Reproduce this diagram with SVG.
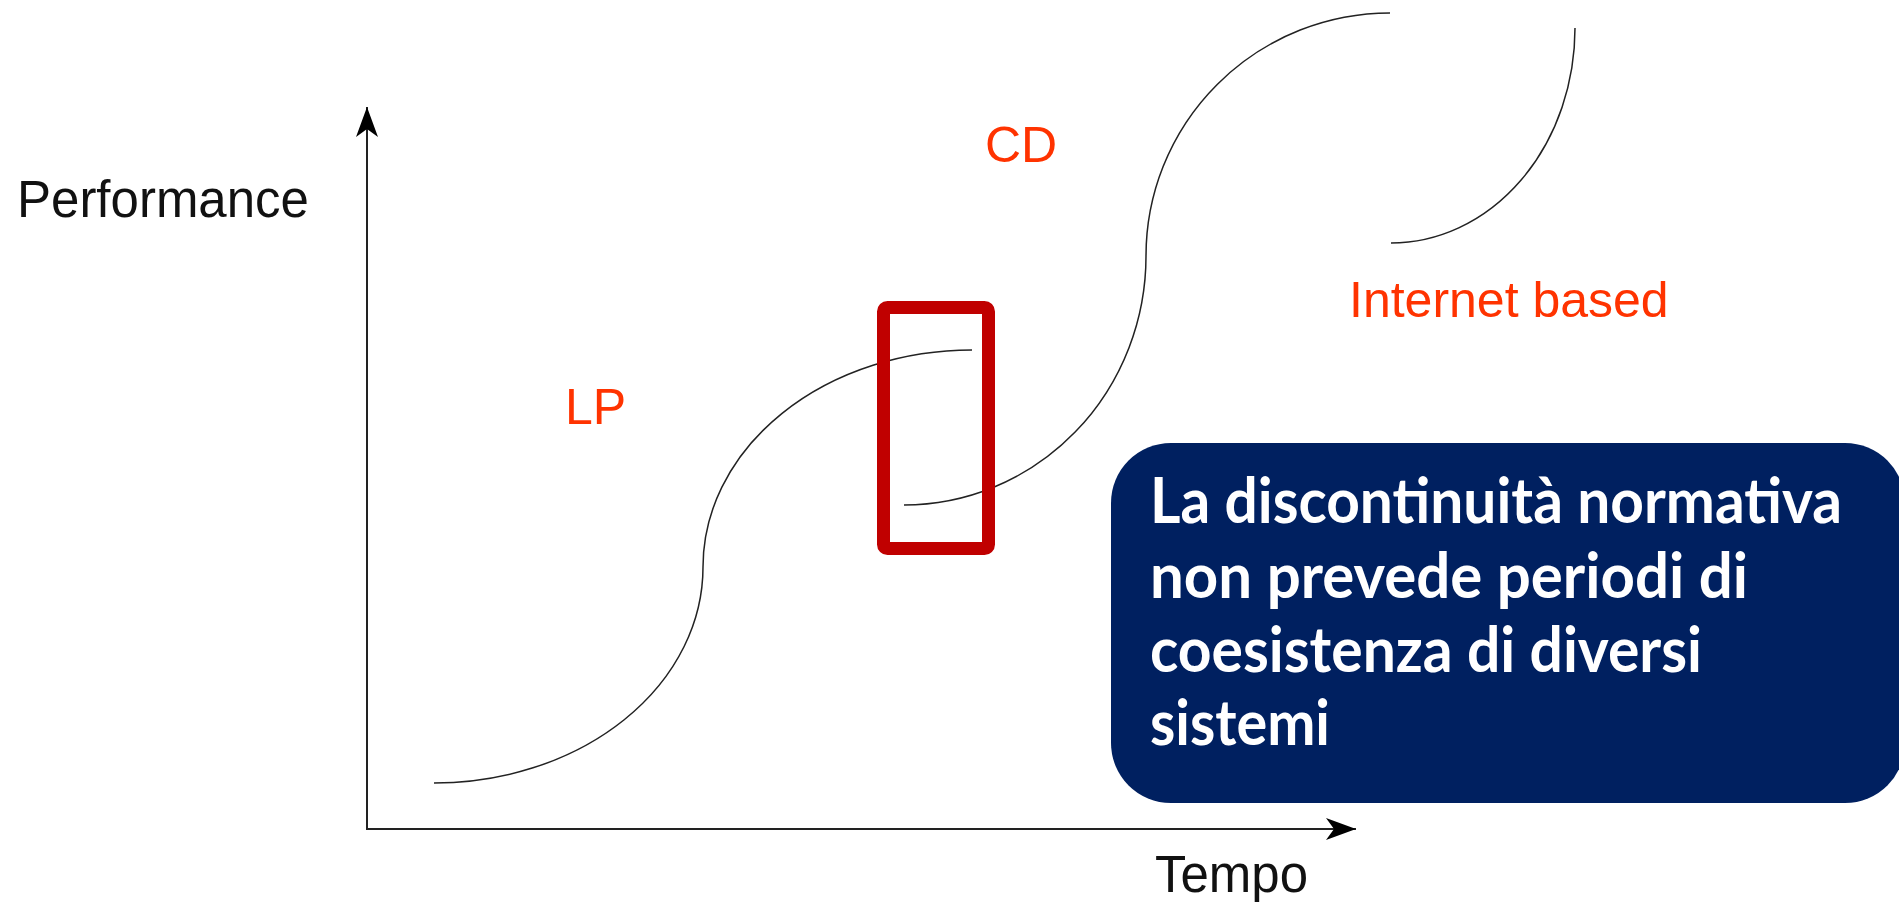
<svg xmlns="http://www.w3.org/2000/svg" width="1899" height="902" viewBox="0 0 1899 902">
  <style>
    .axis { stroke: #222; stroke-width: 2; fill: none; }
    .curve { stroke: #222; stroke-width: 1.5; fill: none; }
    .lbl { font-family: "Liberation Sans", Arial, sans-serif; font-size: 51px; fill: #111; }
    .red { font-family: "Liberation Sans", Arial, sans-serif; font-size: 50px; fill: #FF3300; }
    .note { font-family: Lato, "Open Sans", sans-serif; font-weight: bold; font-size: 63px; fill: #FFFFFF; }
  </style>
  <defs>
    <marker id="arr" viewBox="0 0 30 22" refX="30" refY="11" markerWidth="30" markerHeight="22" markerUnits="userSpaceOnUse" orient="auto">
      <path d="M0,0 L30,11 L0,22 L8,11 Z" fill="#000"/>
    </marker>
  </defs>
  <rect width="1899" height="902" fill="#FFFFFF"/>

  <g id="connectors">
    <line class="axis" x1="367" y1="829" x2="367" y2="107" marker-end="url(#arr)"/>
    <line class="axis" x1="366" y1="829" x2="1356" y2="829" marker-end="url(#arr)"/>
  </g>

  <g id="curve-lp">
    <path class="curve" d="M434,783 A269,216 0 0 0 703,567 A269,217 0 0 1 972,350"/>
  </g>
  <g id="curve-cd">
    <path class="curve" d="M904,505 A242,249 0 0 0 1146,256 A244,243 0 0 1 1390,13"/>
  </g>
  <g id="curve-internet">
    <path class="curve" d="M1391,243 A184,215 0 0 0 1575,28"/>
  </g>

  <g id="label-performance">
    <text class="lbl" x="17" y="217">Performance</text>
  </g>
  <g id="label-tempo">
    <text class="lbl" x="1155" y="892">Tempo</text>
  </g>
  <g id="label-lp">
    <text class="red" x="565" y="424">LP</text>
  </g>
  <g id="label-cd">
    <text class="red" x="985" y="162" font-size="48">CD</text>
  </g>
  <g id="label-internet">
    <text class="red" x="1349" y="317" font-size="51">Internet based</text>
  </g>

  <g id="highlight">
    <rect x="883.5" y="307.5" width="105" height="241" rx="4" fill="none" stroke="#C00000" stroke-width="13"/>
  </g>

  <g id="note">
    <rect x="1111" y="443" width="794" height="360" rx="60" fill="#002060"/>
    <text class="note" x="1150" y="523" textLength="692" lengthAdjust="spacingAndGlyphs">La discontinuità normativa</text>
    <text class="note" x="1150" y="598" textLength="598" lengthAdjust="spacingAndGlyphs">non prevede periodi di</text>
    <text class="note" x="1150" y="672" textLength="552" lengthAdjust="spacingAndGlyphs">coesistenza di diversi</text>
    <text class="note" x="1150" y="745" textLength="180" lengthAdjust="spacingAndGlyphs">sistemi</text>
  </g>
</svg>
